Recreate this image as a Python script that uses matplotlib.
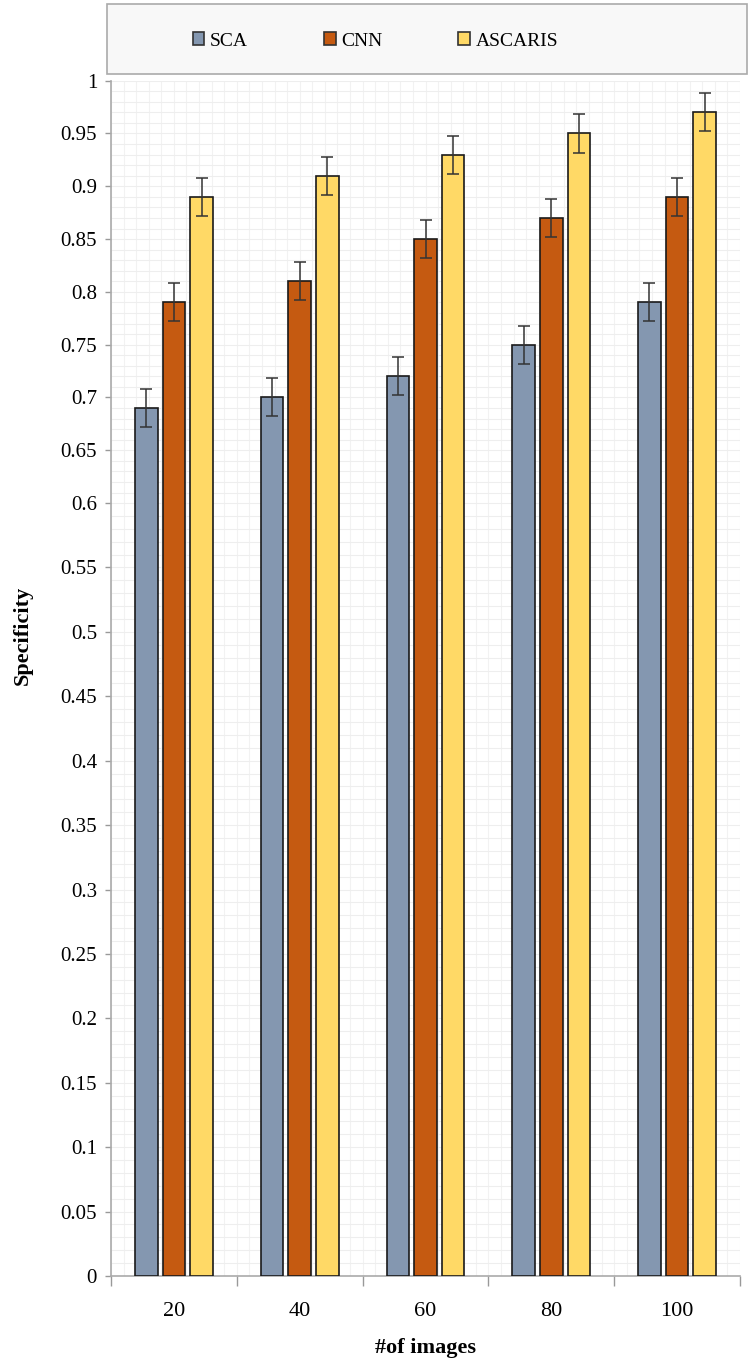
import numpy as np
import matplotlib
matplotlib.use("Agg")
import matplotlib.pyplot as plt
from matplotlib.patches import Rectangle, Patch
from matplotlib.ticker import MultipleLocator, FixedLocator

categories = ["20", "40", "60", "80", "100"]
series_names = ["SCA", "CNN", "ASCARIS"]
sca = [0.69, 0.70, 0.72, 0.75, 0.79]
cnn = [0.79, 0.81, 0.85, 0.87, 0.89]
ascaris = [0.89, 0.91, 0.93, 0.95, 0.97]
errors = [0.018, 0.018, 0.018]
colors = ["#8497B0", "#C55A11", "#FFD966"]
yticks = [round(0.05 * i, 2) for i in range(21)]

plt.rcParams['font.family'] = ['Liberation Serif', 'DejaVu Serif']

fig = plt.figure(figsize=(7.52, 13.68), dpi=100)
W, H = 752, 1368
ax = fig.add_axes([111 / W, 1 - 1276 / H, (740 - 111) / W, (1276 - 80.7) / H])

# the reference image is stretched differently below and above 0.6
S = 1.22
def fwd(y):
    y = np.asarray(y, dtype=float)
    return np.where(y <= 0.6, y * S, 0.6 * S + (y - 0.6))
def inv(u):
    u = np.asarray(u, dtype=float)
    return np.where(u <= 0.6 * S, u / S, (u - 0.6 * S) + 0.6)
ax.set_yscale('function', functions=(fwd, inv))

x = np.arange(len(categories))
width = 0.18
offsets = [-0.22, 0.0, 0.22]
for vals, off, col, err in zip([sca, cnn, ascaris], offsets, colors, errors):
    ax.bar(x + off, vals, width, color=col, edgecolor='#1a1a1a', linewidth=1.2,
           yerr=err, error_kw=dict(ecolor='#333333', elinewidth=1.1, capsize=4, capthick=1.1),
           zorder=3)

ax.set_xlim(-0.5, len(categories) - 0.5)
ax.set_ylim(0, 1)
ax.yaxis.set_major_locator(FixedLocator(yticks))
ax.set_yticklabels([f"{t:g}" for t in yticks], fontsize=15)
ax.yaxis.set_minor_locator(MultipleLocator(0.01))
ax.xaxis.set_major_locator(FixedLocator(np.arange(-0.5, len(categories), 1.0)))
ax.xaxis.set_major_formatter(plt.NullFormatter())
ax.xaxis.set_minor_locator(FixedLocator(x))
ax.set_xticklabels(categories, minor=True, fontsize=16)
ax.tick_params(axis='x', which='major', length=7, color='#999999', width=1)
ax.tick_params(axis='x', which='minor', length=0, pad=19)
ax.tick_params(axis='y', which='major', length=4, color='#999999', width=1, pad=6)
ax.tick_params(axis='y', which='minor', length=0)

# faint background grid
ax.grid(True, which='both', axis='y', color='#eeeeee', linewidth=0.8, zorder=0)
ax.set_axisbelow(True)
for xv in np.arange(-0.5, len(categories), 0.1):
    ax.axvline(xv, color='#f2f2f2', linewidth=0.8, zorder=0)

for s in ['top', 'right']:
    ax.spines[s].set_visible(False)
ax.spines['left'].set_color('#aaaaaa')
ax.spines['bottom'].set_color('#aaaaaa')
ax.spines['left'].set_linewidth(1.2)
ax.spines['bottom'].set_linewidth(1.2)

ax.set_ylabel("Specificity", fontsize=16, fontweight='bold')
ax.yaxis.set_label_coords(-0.124, 0.536)
ax.set_xlabel("#of images", fontsize=16, fontweight='bold')
ax.xaxis.set_label_coords(0.5, -0.052)

# legend box
box = Rectangle((107 / W, 1 - 74 / H), (747 - 107) / W, (74 - 4) / H,
                transform=fig.transFigure, facecolor='#f8f8f8', edgecolor='#aaaaaa',
                linewidth=1.2, zorder=0)
fig.patches.append(box)
handles = [Patch(facecolor=c, edgecolor='#333333', linewidth=1.2, label=n)
           for c, n in zip(colors, series_names)]
fig.legend(handles=handles, loc='center left', bbox_to_anchor=(175 / W, 1 - 41 / H),
           ncol=3, frameon=False, fontsize=14, handlelength=0.6, handleheight=0.6,
           handletextpad=0.3, columnspacing=3.9)

fig.savefig("out.png", dpi=100)
